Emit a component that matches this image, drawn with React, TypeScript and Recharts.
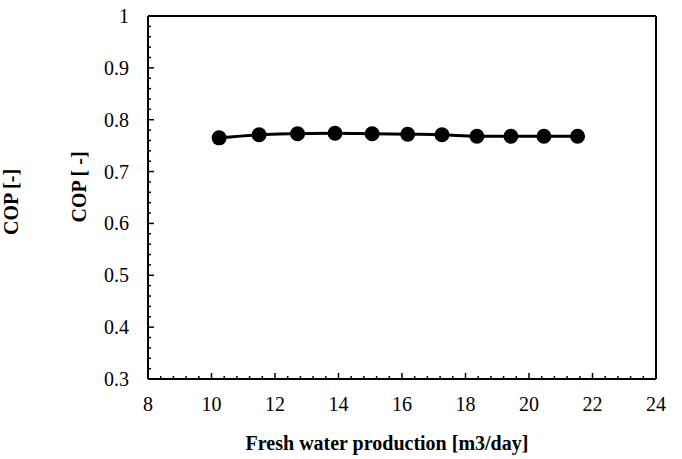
import { LineChart, Line, XAxis, YAxis } from 'recharts';

// Fresh water production [m3/day] vs COP
const production = [10.24, 11.5, 12.71, 13.89, 15.06, 16.18, 17.26, 18.36, 19.43, 20.47, 21.53];
const cop = [0.765, 0.771, 0.773, 0.774, 0.773, 0.772, 0.771, 0.768, 0.768, 0.768, 0.768];

const xMajorLabels = ['8', '10', '12', '14', '16', '18', '20', '22', '24'];
const yMajorLabels = ['0.3', '0.4', '0.5', '0.6', '0.7', '0.8', '0.9', '1'];

const FONT = '"Liberation Serif", "Times New Roman", serif';

const data = production.map((p, i) => ({ x: p, cop: cop[i] }));

// major ticks plus 4 minor ticks in between
const xTicks: number[] = [];
for (let k = 0; k <= (xMajorLabels.length - 1) * 5; k++) xTicks.push(Math.round((8 + k * 0.4) * 1000) / 1000);
const yTicks: number[] = [];
for (let k = 0; k <= (yMajorLabels.length - 1) * 5; k++) yTicks.push(Math.round((0.3 + k * 0.02) * 1000) / 1000);

const findLabel = (v: number, list: string[]) => list.find((s) => Math.abs(parseFloat(s) - v) < 1e-6);

function XTick(props: any) {
  const { x, y, payload } = props;
  const label = findLabel(payload.value, xMajorLabels);
  return (
    <g>
      <line x1={x} x2={x} y1={y} y2={y - (label ? 6 : 3)} stroke="#000" strokeWidth={1.5} />
      {label && (
        <text x={x} y={y + 25} textAnchor="middle" dominantBaseline="central" fontFamily={FONT} fontSize={20} fill="#000">
          {label}
        </text>
      )}
    </g>
  );
}

function YTick(props: any) {
  const { x, y, payload } = props;
  const label = findLabel(payload.value, yMajorLabels);
  return (
    <g>
      <line x1={x} x2={x + (label ? 6 : 3)} y1={y} y2={y} stroke="#000" strokeWidth={1.5} />
      {label && (
        <text x={x - 19} y={y} textAnchor="end" dominantBaseline="central" fontFamily={FONT} fontSize={20} fill="#000">
          {label}
        </text>
      )}
    </g>
  );
}

const axisStyle = { stroke: '#000', strokeWidth: 2 };

export default function App() {
  return (
    <div style={{ position: 'absolute', left: 0, top: 0, width: 682, height: 459, background: '#fff' }}>
      <LineChart width={682} height={459} data={data} margin={{ top: 15, right: 25, bottom: 79, left: 88 }}>
        <XAxis
          dataKey="x"
          type="number"
          domain={[8, 24]}
          ticks={xTicks}
          interval={0}
          tick={<XTick />}
          tickLine={false}
          tickSize={0}
          tickMargin={0}
          axisLine={axisStyle}
          height={1}
        />
        <XAxis
          xAxisId="top"
          orientation="top"
          dataKey="x"
          type="number"
          domain={[8, 24]}
          tick={false}
          tickLine={false}
          axisLine={axisStyle}
          height={1}
        />
        <YAxis
          type="number"
          domain={[0.3, 1]}
          ticks={yTicks}
          interval={0}
          tick={<YTick />}
          tickLine={false}
          tickSize={0}
          tickMargin={0}
          axisLine={axisStyle}
          width={60}
        />
        <YAxis
          yAxisId="right"
          orientation="right"
          type="number"
          domain={[0.3, 1]}
          tick={false}
          tickLine={false}
          axisLine={axisStyle}
          width={1}
        />
        <Line
          type="monotone"
          dataKey="cop"
          stroke="#000"
          strokeWidth={3}
          dot={{ r: 7.5, fill: '#000', stroke: '#000', strokeWidth: 0 }}
          isAnimationActive={false}
        />
      </LineChart>
      <svg width={682} height={459} style={{ position: 'absolute', left: 0, top: 0, pointerEvents: 'none' }}>
        <text x={387} y={450} textAnchor="middle" fontFamily={FONT} fontWeight="bold" fontSize={20} fill="#000">
          Fresh water production [m3/day]
        </text>
        <text
          x={11}
          y={202}
          textAnchor="middle"
          dominantBaseline="central"
          transform="rotate(-90, 11, 202)"
          fontFamily={FONT}
          fontWeight="bold"
          fontSize={20}
          fill="#000"
        >
          COP [-]
        </text>
        <text
          x={79}
          y={187}
          textAnchor="middle"
          dominantBaseline="central"
          transform="rotate(-90, 79, 187)"
          fontFamily={FONT}
          fontWeight="bold"
          fontSize={20}
          fill="#000"
        >
          COP [ -]
        </text>
      </svg>
    </div>
  );
}
